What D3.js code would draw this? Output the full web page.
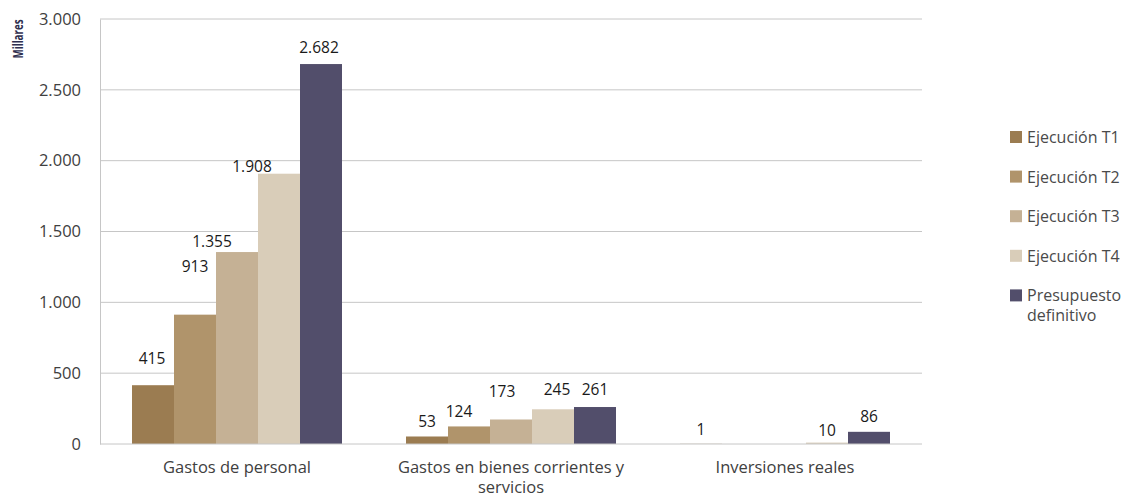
<!DOCTYPE html>
<html><head><meta charset="utf-8">
<script src="https://cdn.jsdelivr.net/npm/d3@7"></script>
<style>html,body{margin:0;padding:0;background:#fff;}svg{display:block;font-family:"Open Sans",sans-serif;}</style>
</head><body><svg id="c" width="1133" height="497"></svg>
<script>
const categories = ["Gastos de personal", "Gastos en bienes corrientes y servicios", "Inversiones reales"];
const categoryLines = [["Gastos de personal"], ["Gastos en bienes corrientes y", "servicios"], ["Inversiones reales"]];
const seriesNames = ["Ejecución T1", "Ejecución T2", "Ejecución T3", "Ejecución T4", "Presupuesto definitivo"];
const legendLines = [["Ejecución T1"], ["Ejecución T2"], ["Ejecución T3"], ["Ejecución T4"], ["Presupuesto", "definitivo"]];
const ejecucionT1 = [415, 53, 1];
const ejecucionT2 = [913, 124, null];
const ejecucionT3 = [1355, 173, null];
const ejecucionT4 = [1908, 245, 10];
const presupuesto = [2682, 261, 86];
const yTicks = [0, 500, 1000, 1500, 2000, 2500, 3000];
const colors = ["#9b7c51", "#b0946b", "#c5b195", "#d9cdb9", "#524e6b"];
// manual label nudges (px) as in the original chart
const labelNudge = {"0|0": [-1, -12], "0|1": [0, -34], "0|2": [-25, 4], "0|3": [-27, 7], "0|4": [-2, -2],
  "1|1": [-10, 0], "1|2": [-9, -13], "1|3": [4, -5], "1|4": [0, -3], "2|4": [0, -1], "2|3": [0, 2]};

const series = [ejecucionT1, ejecucionT2, ejecucionT3, ejecucionT4, presupuesto];
const fmt = v => d3.format(",")(v).replace(/,/g, ".");

const svg = d3.select("#c");
const L = 100, R = 922, T = 19, B = 444;
const x0 = d3.scaleBand().domain(categories).range([L, R]).paddingInner(0).paddingOuter(0);
const x1 = d3.scaleBand().domain(seriesNames).range([32, 242]).padding(0);
const y = d3.scaleLinear().domain([0, 3000]).range([B, T]);

// gridlines
svg.append("g").selectAll("line").data(yTicks.filter(t => t > 0)).join("line")
  .attr("x1", L).attr("x2", R).attr("y1", d => y(d)).attr("y2", d => y(d))
  .attr("stroke", "#c6c6c6").attr("stroke-width", 1);

// y axis
const yAxis = svg.append("g").attr("transform", `translate(${L},0)`)
  .call(d3.axisLeft(y).tickValues(yTicks).tickSize(0).tickPadding(19).tickFormat(fmt));
yAxis.select(".domain").attr("stroke", "#c6c6c6");
yAxis.selectAll("text").attr("font-size", 16.5).attr("fill", "#404040").attr("font-family", "Open Sans");

svg.append("text").attr("transform", "translate(23,39) rotate(-90)").attr("text-anchor", "middle")
  .attr("font-size", 14).attr("font-weight", "bold").attr("fill", "#2f2f4f")
  .attr("textLength", 39).attr("lengthAdjust", "spacingAndGlyphs").text("Millares");

// bars
const groups = svg.append("g").selectAll("g").data(categories).join("g")
  .attr("transform", d => `translate(${x0(d)},0)`);
groups.each(function(cat, ci) {
  const g = d3.select(this);
  seriesNames.forEach((s, si) => {
    const v = series[si][ci];
    if (v == null) return;
    g.append("rect").attr("x", x1(s)).attr("width", x1.bandwidth())
      .attr("y", y(v)).attr("height", y(0) - y(v)).attr("fill", colors[si]);
    const n = labelNudge[ci + "|" + si] || [0, 0];
    g.append("text").attr("x", x1(s) + x1.bandwidth() / 2 + n[0]).attr("y", y(v) - 9 + n[1])
      .attr("text-anchor", "middle").attr("font-size", 15.5).attr("fill", "#1a1a1a").text(fmt(v));
  });
});

// x axis line
svg.append("line").attr("x1", L).attr("x2", R).attr("y1", B).attr("y2", B).attr("stroke", "#c6c6c6");

// category labels
categories.forEach((c, i) => {
  const t = svg.append("text").attr("text-anchor", "middle").attr("font-size", 16.5).attr("fill", "#404040");
  categoryLines[i].forEach((ln, k) => {
    t.append("tspan").attr("x", x0(c) + x0.bandwidth() / 2).attr("y", 473 + k * 20).text(ln);
  });
});

// legend
const lg = svg.append("g");
seriesNames.forEach((s, i) => {
  const cy = 137 + i * 39.6;
  lg.append("rect").attr("x", 1010).attr("y", cy - 6).attr("width", 12).attr("height", 12).attr("fill", colors[i]);
  const t = lg.append("text").attr("font-size", 16).attr("fill", "#4a4a4a");
  legendLines[i].forEach((ln, k) => {
    t.append("tspan").attr("x", 1027).attr("y", cy + 6 + k * 20).text(ln);
  });
});
</script></body></html>
